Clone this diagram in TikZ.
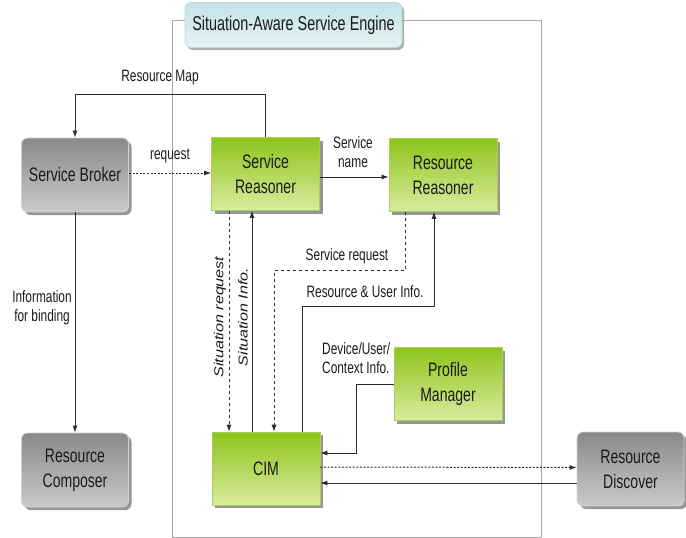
\documentclass[tikz,border=0pt]{standalone}
\usepackage{fontspec}
\setmainfont{Liberation Sans}[FakeStretch=0.72]
\newfontfamily\rotfont{Liberation Sans}[FakeStretch=1.24]
\usetikzlibrary{shadows,arrows.meta,calc}

\definecolor{gTop}{HTML}{8DC41C}
\definecolor{gBot}{HTML}{DAEC9E}
\definecolor{gEdge}{HTML}{A9CF55}
\definecolor{kTop}{HTML}{898989}
\definecolor{kBot}{HTML}{CACACA}
\definecolor{kEdge}{HTML}{D2D2D2}
\definecolor{cTop}{HTML}{C3E3E7}
\definecolor{cBot}{HTML}{E4F2F3}
\definecolor{cEdge}{HTML}{B9D9DD}
\definecolor{lineC}{HTML}{2B2B2B}
\definecolor{frameC}{HTML}{A8A8A8}
\definecolor{txtC}{HTML}{1A1A1A}

\tikzset{
  boxfont/.style={font=\fontsize{19.5}{25}\selectfont, text=txtC},
  lblfont/.style={font=\fontsize{16.5}{19}\selectfont, text=txtC},
  shade3/.style={drop shadow={shadow xshift=3pt, shadow yshift=-3pt, fill=black!55, opacity=0.75}},
  gbox/.style={rectangle, draw=gEdge, line width=0.6pt, top color=gTop, bottom color=gBot,
    minimum width=108pt, minimum height=73pt, inner sep=0pt, align=center, boxfont, shade3},
  kbox/.style={rectangle, rounded corners=6pt, draw=kEdge, line width=0.8pt, top color=kTop, bottom color=kBot,
    minimum width=107pt, minimum height=74pt, inner sep=0pt, align=center, boxfont, shade3},
  lbl/.style={inner sep=0pt, align=center, lblfont},
  rlbl/.style={inner sep=0pt, rotate=90, font=\rotfont\itshape\fontsize{13}{15}\selectfont, text=txtC},
  arr/.style={draw=lineC, line width=1pt, -{Latex[length=7pt,width=5pt]}},
  dotarr/.style={arr, dash pattern=on 2pt off 1.6pt},
  dasharr/.style={arr, dash pattern=on 3.5pt off 2.5pt},
}

\begin{document}
\begin{tikzpicture}[x=1pt,y=-1pt]
\useasboundingbox (0,0) rectangle (686,538);

% engine frame
\draw[frameC, line width=0.8pt] (172.5,20) rectangle (541,537);

% engine title tab
\node[rectangle, rounded corners=6pt, draw=cEdge, line width=0.6pt, top color=cTop, bottom color=cBot,
  minimum width=217pt, minimum height=45pt, inner sep=0pt,
  font=\fontsize{20}{24}\selectfont, text=txtC,
  drop shadow={shadow xshift=2pt, shadow yshift=-2.5pt, fill=black!45, opacity=0.7}]
  (title) at (293.5,25) {Situation-Aware Service Engine};

% components
\node[kbox] (broker)   at (75,175)    {Service Broker};
\node[kbox] (composer) at (75,470)    {Resource\\Composer};
\node[kbox] (discover) at (630.5,469) {Resource\\Discover};
\node[gbox] (sreason)  at (265.5,174) {Service\\Reasoner};
\node[gbox] (rreason)  at (443,175)   {Resource\\Reasoner};
\node[gbox] (profile)  at (448,384)   {Profile\\Manager};
\node[gbox] (cim)      at (266,468.5) {CIM};

% service broker links
\draw[arr] (sreason.north) -- ++(0,-43) -| (broker.north);
\draw[dotarr] ([yshift=2pt]broker.east) -- ([yshift=1pt]sreason.west);
\draw[arr] (broker.south) -- (composer.north);

% reasoner links
\draw[arr] ([yshift=-3pt]sreason.east) -- ([yshift=-2pt]rreason.west);
\draw[dasharr] ([xshift=-36.5pt]sreason.south) -- ([xshift=-37pt]cim.north);
\draw[arr] ([xshift=-14pt]cim.north) -- ([xshift=-13.5pt]sreason.south);
\draw[dasharr] ([xshift=-38pt]rreason.south) -- ++(0,59) -| ([xshift=8pt]cim.north);
\draw[arr] ([xshift=36pt]cim.north) -- ++(0,-125) -| ([xshift=-9pt]rreason.south);

% profile and discovery links
\draw[arr] (profile.west) -- ++(-37,0) |- ([yshift=15.5pt]cim.east);
\draw[dotarr] ([yshift=1.5pt]cim.east) -- ([yshift=1.5pt]discover.west);
\draw[arr] ([yshift=-14pt]discover.west) -- ([yshift=-14.5pt]cim.east);

% labels
\node[lbl] (lmap)  at (160,78)  {Resource Map};
\node[lbl] (lreq)  at (170,156) {request};
\node[lbl] (lname) at (353,152) {Service\\name};
\node[lbl] (lbind) at (42,308)  {Information\\for binding};
\node[lbl] (lsreq) at (347,256) {Service request};
\node[lbl] (lres)  at (365,292) {Resource \& User Info.};
\node[lbl, align=left, anchor=west] (ldev) at (322,358) {Device/User/\\Context Info.};
\node[rlbl] (lsitr) at (220,317) {Situation request};
\node[rlbl] (lsiti) at (243,317) {Situation Info.};
\end{tikzpicture}
\end{document}
